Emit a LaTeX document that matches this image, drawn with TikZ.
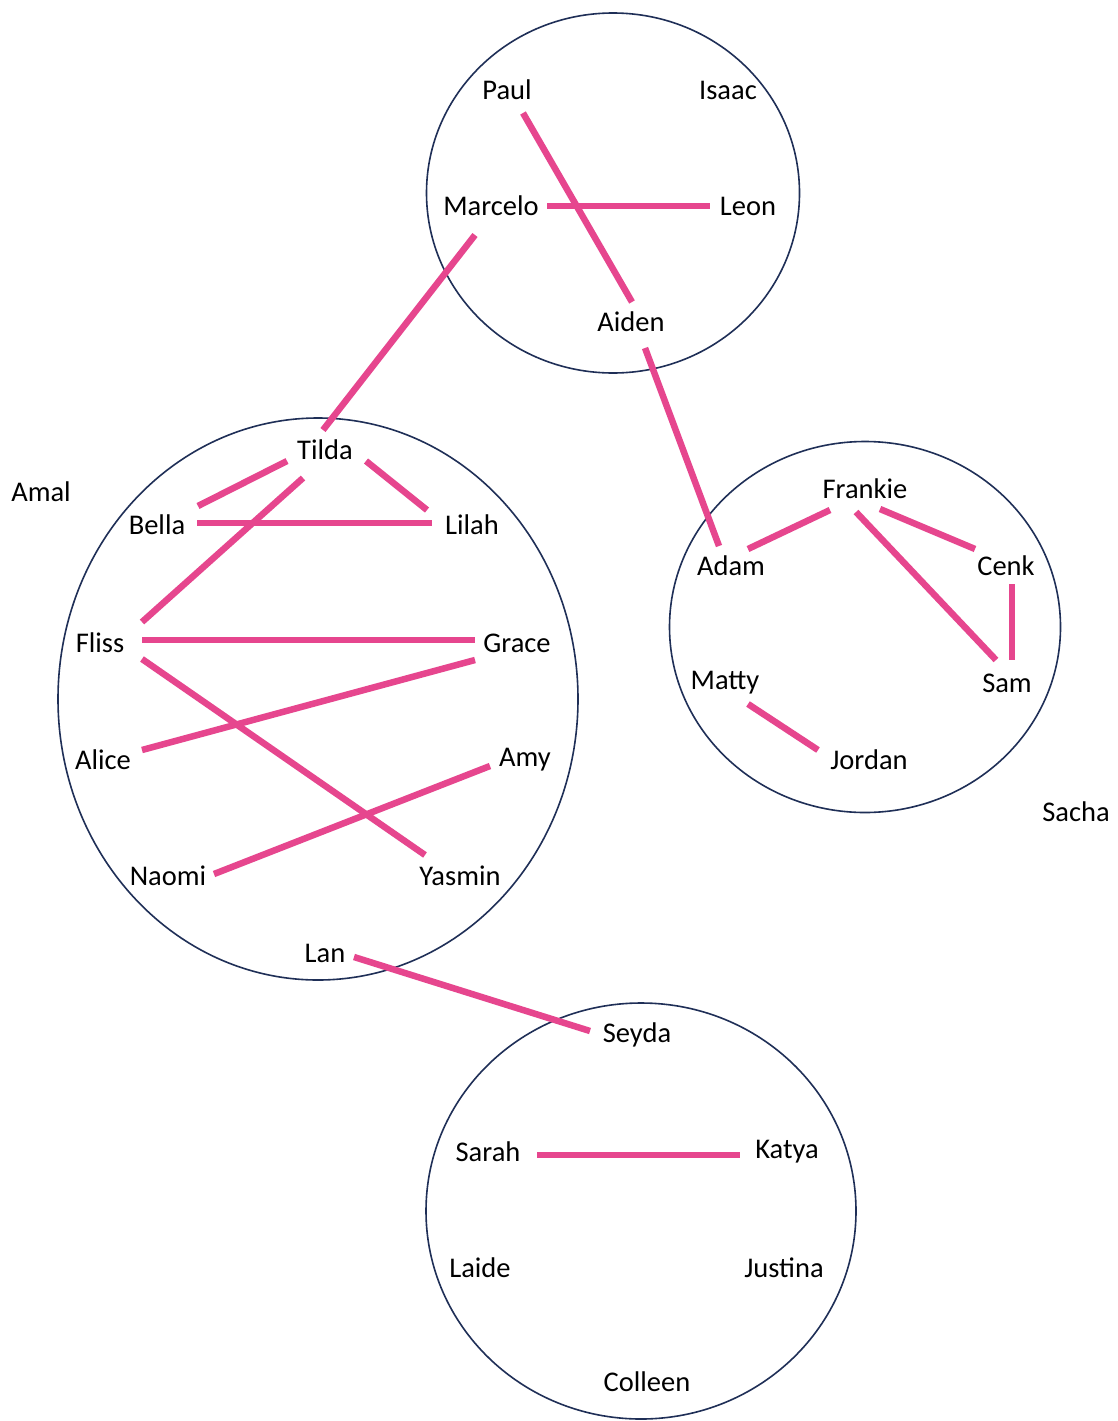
\documentclass[tikz,border=0pt]{standalone}
\usepackage{fontspec}
\setmainfont{Carlito}
\usetikzlibrary{shapes.geometric}
\definecolor{linkpink}{HTML}{E6468E}
\definecolor{ringblue}{HTML}{1F2F57}
\begin{document}
\begin{tikzpicture}[x=1pt,y=-1pt,
  group/.style={ellipse,draw=ringblue,line width=1.6pt,inner sep=0pt},
  person/.style={inner sep=0pt,font=\fontsize{28.5}{34}\selectfont,text=black},
  link/.style={draw=linkpink,line width=6.5pt}]
\fill[white] (0,0) rectangle (1118,1421);
\useasboundingbox (0,0) rectangle (1118,1421);

% groups
\node[group,minimum width=373pt,minimum height=360pt] (g1) at (613,193) {};
\node[group,minimum width=520pt,minimum height=562pt] (g2) at (318,699) {};
\node[group,minimum width=391pt,minimum height=371pt] (g3) at (865,627) {};
\node[group,minimum width=430pt,minimum height=416pt] (g4) at (641,1211) {};

% people
\node[person] (paul) at (507,90) {Paul};
\node[person] (isaac) at (728,90) {Isaac};
\node[person] (marcelo) at (491,206) {Marcelo};
\node[person] (leon) at (748,206) {Leon};
\node[person] (aiden) at (631,322) {Aiden};
\node[person] (amal) at (41,492) {Amal};
\node[person] (tilda) at (325,450) {Tilda};
\node[person] (bella) at (157,525) {Bella};
\node[person] (lilah) at (472,525) {Lilah};
\node[person] (fliss) at (100,643) {Fliss};
\node[person] (grace) at (517,643) {Grace};
\node[person] (alice) at (103,760) {Alice};
\node[person] (amy) at (525,760) {Amy};
\node[person] (naomi) at (168,876) {Naomi};
\node[person] (yasmin) at (460,876) {Yasmin};
\node[person] (lan) at (325,953) {Lan};
\node[person] (frankie) at (865,489) {Frankie};
\node[person] (adam) at (731,566) {Adam};
\node[person] (cenk) at (1006,566) {Cenk};
\node[person] (matty) at (725,683) {Matty};
\node[person] (sam) at (1007,683) {Sam};
\node[person] (jordan) at (869,760) {Jordan};
\node[person] (sacha) at (1076,812) {Sacha};
\node[person] (seyda) at (637,1035) {Seyda};
\node[person] (sarah) at (488,1152) {Sarah};
\node[person] (katya) at (787,1152) {Katya};
\node[person] (laide) at (480,1268) {Laide};
\node[person] (justina) at (784,1268) {Justina};
\node[person] (colleen) at (647,1382) {Colleen};

% link end points
\coordinate (paulA) at (523,113);   \coordinate (aidenA) at (632,302);
\coordinate (marceloA) at (547,206);\coordinate (leonA) at (710,206);
\coordinate (marceloB) at (475,235);\coordinate (tildaA) at (323,430);
\coordinate (aidenB) at (645,348);  \coordinate (adamA) at (719,546);
\coordinate (tildaB) at (287,461);  \coordinate (bellaA) at (198,506);
\coordinate (tildaC) at (303,478);  \coordinate (flissA) at (142,622);
\coordinate (tildaD) at (366,461);  \coordinate (lilahA) at (427,510);
\coordinate (bellaB) at (197,523);  \coordinate (lilahB) at (432,523);
\coordinate (flissB) at (142,640);  \coordinate (graceA) at (475,640);
\coordinate (flissC) at (142,659);  \coordinate (yasminA) at (425,855);
\coordinate (graceB) at (475,660);  \coordinate (aliceA) at (142,750);
\coordinate (amyA) at (490,766);    \coordinate (naomiA) at (214,874);
\coordinate (lanA) at (354,957);    \coordinate (seydaA) at (590,1031);
\coordinate (adamB) at (748,549);   \coordinate (frankieA) at (830,510);
\coordinate (frankieB) at (856,512);\coordinate (samA) at (996,660);
\coordinate (frankieC) at (880,509);\coordinate (cenkA) at (975,549);
\coordinate (cenkB) at (1012,584);  \coordinate (samB) at (1012,660);
\coordinate (mattyA) at (748,704);  \coordinate (jordanA) at (818,750);
\coordinate (sarahA) at (537,1155); \coordinate (katyaA) at (740,1155);

% links
\draw[link] (paulA) -- (aidenA);
\draw[link] (marceloA) -- (leonA);
\draw[link] (marceloB) -- (tildaA);
\draw[link] (aidenB) -- (adamA);
\draw[link] (tildaB) -- (bellaA);
\draw[link] (tildaC) -- (flissA);
\draw[link] (tildaD) -- (lilahA);
\draw[link] (bellaB) -- (lilahB);
\draw[link] (flissB) -- (graceA);
\draw[link] (flissC) -- (yasminA);
\draw[link] (graceB) -- (aliceA);
\draw[link] (amyA) -- (naomiA);
\draw[link] (lanA) -- (seydaA);
\draw[link] (adamB) -- (frankieA);
\draw[link] (frankieB) -- (samA);
\draw[link] (frankieC) -- (cenkA);
\draw[link] (cenkB) -- (samB);
\draw[link] (mattyA) -- (jordanA);
\draw[link] (sarahA) -- (katyaA);
\end{tikzpicture}
\end{document}
